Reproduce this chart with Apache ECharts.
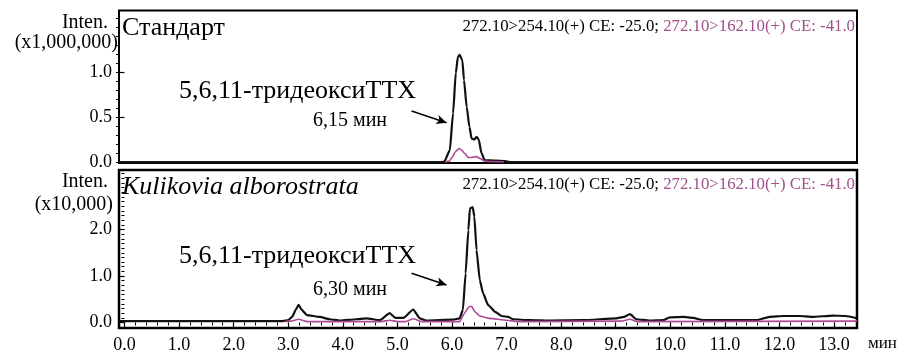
<!DOCTYPE html>
<html>
<head>
<meta charset="utf-8">
<script src="https://cdn.jsdelivr.net/npm/echarts@6/dist/echarts.min.js"></script>
<style>
  html, body { margin: 0; padding: 0; background: #fff; }
  #chart { width: 901px; height: 357px; }
</style>
</head>
<body>
<div id="chart"></div>
<script>
// x axis, minutes
const xTicks = [0, 1, 2, 3, 4, 5, 6, 7, 8, 9, 10, 11, 12, 13]
const topYTicks = [0, 0.5, 1.0]
const bottomYTicks = [0, 1.0, 2.0]

// Стандарт, x1,000,000
const stdBlackTime = [-0.10, 5.80, 5.86, 5.96, 6.02, 6.07, 6.11, 6.14, 6.19, 6.22, 6.27, 6.32, 6.36, 6.41, 6.45, 6.49, 6.54, 6.60, 6.79, 6.97, 7.06, 13.42]
const stdBlackValue = [0, 0, 0.005, 0.13, 0.54, 0.99, 1.17, 1.19, 1.13, 0.91, 0.61, 0.39, 0.26, 0.25, 0.28, 0.25, 0.10, 0.02, 0.015, 0.01, 0, 0]
const stdPinkTime = [5.88, 5.95, 6.00, 6.07, 6.13, 6.18, 6.24, 6.30, 6.36, 6.45, 6.51, 6.60, 6.69, 6.95]
const stdPinkValue = [0, 0.01, 0.05, 0.12, 0.15, 0.13, 0.09, 0.05, 0.05, 0.06, 0.04, 0.01, 0.005, 0]

// Kulikovia alborostrata, x10,000
const kulBlackTime = [-0.10, 2.90, 3.00, 3.07, 3.14, 3.19, 3.25, 3.34, 3.58, 3.76, 3.95, 4.25, 4.43, 4.68, 4.86, 4.96, 5.11, 5.29, 5.41, 5.53, 6.02, 6.14, 6.20, 6.25, 6.30, 6.33, 6.38, 6.41, 6.45, 6.51, 6.57, 6.66, 6.79, 6.91, 7.03, 7.12, 7.43, 7.79, 8.40, 9.01, 9.15, 9.26, 9.38, 9.62, 9.87, 9.99, 10.23, 10.42, 10.60, 11.15, 11.58, 11.82, 12.07, 12.37, 12.60, 12.98, 13.21, 13.42]
const kulBlackValue = [0.03, 0.03, 0.05, 0.12, 0.28, 0.38, 0.27, 0.16, 0.12, 0.07, 0.04, 0.07, 0.09, 0.05, 0.20, 0.10, 0.10, 0.28, 0.09, 0.04, 0.06, 0.09, 0.27, 1.06, 1.99, 2.46, 2.48, 2.28, 1.56, 0.91, 0.63, 0.38, 0.23, 0.14, 0.12, 0.07, 0.05, 0.04, 0.05, 0.09, 0.12, 0.18, 0.07, 0.04, 0.05, 0.11, 0.12, 0.10, 0.05, 0.05, 0.05, 0.12, 0.14, 0.14, 0.12, 0.15, 0.14, 0.09]
const kulPinkTime = [2.95, 3.05, 3.19, 3.35, 4.70, 4.86, 5.00, 5.15, 5.29, 5.45, 6.14, 6.23, 6.31, 6.36, 6.42, 6.51, 6.69, 7.00, 7.20, 9.10, 9.26, 9.40, 13.42]
const kulPinkValue = [0.02, 0.03, 0.07, 0.02, 0.02, 0.05, 0.02, 0.02, 0.08, 0.02, 0.02, 0.20, 0.34, 0.35, 0.23, 0.14, 0.09, 0.05, 0.02, 0.03, 0.07, 0.02, 0.03]

// arrows (time, intensity)
const stdArrow = [[5.26, 0.567], [5.90, 0.437]]
const kulArrow = [[5.26, 1.06], [5.90, 0.806]]

const FONT = 'Liberation Serif'
const PINK_LINE = '#ad4a93'
const PINK_TEXT = '#a0508a'
const X_MIN = -0.10
const X_MAX = 13.42

const zip = (t, v) => t.map((x, i) => [x, v[i]])
const steps = (from, to, step) => {
  const out = []
  for (let v = from; v <= to + 1e-9; v += step) out.push(+v.toFixed(2))
  return out
}

const chart = echarts.init(document.getElementById('chart'))

const labelStyle = { color: '#000', fontFamily: FONT, fontSize: 18 }

const arrowLine = (pts) => ({
  silent: true,
  symbol: ['none', 'arrow'],
  symbolSize: [7, 10],
  label: { show: false },
  lineStyle: { color: '#000', width: 1.5, type: 'solid' },
  data: [[{ coord: pts[0] }, { coord: pts[1] }]],
})

// major / minor tick axes share a grid, so position is set by hand
const yAxisPair = (gridIndex, min, max, major, minorTop) => [
  {
    gridIndex, type: 'value', min, max, position: 'left',
    axisLine: { show: false },
    splitLine: { show: false },
    axisTick: { customValues: major, length: 5, lineStyle: { color: '#000', width: 1.2 } },
    axisLabel: { customValues: major, margin: 7, formatter: (v) => v.toFixed(1), ...labelStyle },
  },
  {
    gridIndex, type: 'value', min, max, position: 'left', offset: 0,
    axisLine: { show: false },
    splitLine: { show: false },
    axisTick: { customValues: steps(0, minorTop, 0.1), length: 3, lineStyle: { color: '#000', width: 1 } },
    axisLabel: { show: false },
  },
]

chart.setOption({
  animation: false,
  grid: [
    { left: 119, top: 10.5, width: 738, height: 152.5, show: true, borderColor: '#000', borderWidth: 2 },
    { left: 119, top: 170, width: 738, height: 158, show: true, borderColor: '#000', borderWidth: 2.5 },
  ],
  xAxis: [
    { gridIndex: 0, type: 'value', min: X_MIN, max: X_MAX, show: false },
    {
      gridIndex: 1, type: 'value', min: X_MIN, max: X_MAX, position: 'bottom',
      axisLine: { show: false },
      splitLine: { show: false },
      axisTick: { customValues: xTicks, length: 5, lineStyle: { color: '#000', width: 1.2 } },
      axisLabel: { customValues: xTicks, margin: 8, formatter: (v) => v.toFixed(1), ...labelStyle },
    },
    {
      gridIndex: 1, type: 'value', min: X_MIN, max: X_MAX, position: 'bottom', offset: 0,
      axisLine: { show: false },
      splitLine: { show: false },
      axisTick: { customValues: steps(0, 13.4, 0.2), length: 3, lineStyle: { color: '#000', width: 1 } },
      axisLabel: { show: false },
    },
  ],
  yAxis: [
    ...yAxisPair(0, -0.011, 1.683, topYTicks, 1.6),
    ...yAxisPair(1, -0.118, 3.28, bottomYTicks, 3.2),
  ],
  series: [
    {
      type: 'line', xAxisIndex: 0, yAxisIndex: 0,
      data: zip(stdBlackTime, stdBlackValue),
      showSymbol: false, smooth: 0.2, smoothMonotone: 'x',
      lineStyle: { color: '#111', width: 2.2 },
      markLine: arrowLine(stdArrow),
    },
    {
      type: 'line', xAxisIndex: 0, yAxisIndex: 0,
      data: zip(stdPinkTime, stdPinkValue),
      showSymbol: false, smooth: 0.2, smoothMonotone: 'x',
      lineStyle: { color: PINK_LINE, width: 1.6 },
    },
    {
      type: 'line', xAxisIndex: 1, yAxisIndex: 2,
      data: zip(kulBlackTime, kulBlackValue),
      showSymbol: false, smooth: 0.15, smoothMonotone: 'x',
      lineStyle: { color: '#111', width: 2.2 },
      markLine: arrowLine(kulArrow),
    },
    {
      type: 'line', xAxisIndex: 1, yAxisIndex: 2,
      data: zip(kulPinkTime, kulPinkValue),
      showSymbol: false, smooth: 0.15, smoothMonotone: 'x',
      lineStyle: { color: PINK_LINE, width: 1.6 },
    },
  ],
  graphic: [
    // y axis names
    { type: 'text', x: 108, y: 22.5, style: { text: 'Inten.', align: 'right', verticalAlign: 'middle', fill: '#000', fontFamily: FONT, fontSize: 20 } },
    { type: 'text', x: 118, y: 43, style: { text: '(x1,000,000)', align: 'right', verticalAlign: 'middle', fill: '#000', fontFamily: FONT, fontSize: 20 } },
    { type: 'text', x: 108, y: 181.5, style: { text: 'Inten.', align: 'right', verticalAlign: 'middle', fill: '#000', fontFamily: FONT, fontSize: 20 } },
    { type: 'text', x: 113, y: 205, style: { text: '(x10,000)', align: 'right', verticalAlign: 'middle', fill: '#000', fontFamily: FONT, fontSize: 20 } },
    // panel titles
    { type: 'text', x: 122, y: 28.5, style: { text: 'Стандарт', verticalAlign: 'middle', fill: '#000', fontFamily: FONT, fontSize: 26 } },
    { type: 'text', x: 122, y: 187, style: { text: 'Kulikovia alborostrata', verticalAlign: 'middle', fill: '#000', fontFamily: FONT, fontSize: 26, fontStyle: 'italic' } },
    // transitions
    {
      type: 'text', x: 855, y: 26.5,
      style: {
        text: '{a|272.10>254.10(+) CE: -25.0; }{b|272.10>162.10(+) CE: -41.0}',
        align: 'right', verticalAlign: 'middle', fontFamily: FONT, fontSize: 16.8,
        rich: {
          a: { fill: '#000', fontFamily: FONT, fontSize: 16.8 },
          b: { fill: PINK_TEXT, fontFamily: FONT, fontSize: 16.8 },
        },
      },
    },
    {
      type: 'text', x: 855, y: 185,
      style: {
        text: '{a|272.10>254.10(+) CE: -25.0; }{b|272.10>162.10(+) CE: -41.0}',
        align: 'right', verticalAlign: 'middle', fontFamily: FONT, fontSize: 16.8,
        rich: {
          a: { fill: '#000', fontFamily: FONT, fontSize: 16.8 },
          b: { fill: PINK_TEXT, fontFamily: FONT, fontSize: 16.8 },
        },
      },
    },
    // compound labels
    { type: 'text', x: 179, y: 91, style: { text: '5,6,11-тридеоксиТТХ', verticalAlign: 'middle', fill: '#000', fontFamily: FONT, fontSize: 26 } },
    { type: 'text', x: 313, y: 120.5, style: { text: '6,15 мин', verticalAlign: 'middle', fill: '#000', fontFamily: FONT, fontSize: 20 } },
    { type: 'text', x: 179, y: 256.5, style: { text: '5,6,11-тридеоксиТТХ', verticalAlign: 'middle', fill: '#000', fontFamily: FONT, fontSize: 26 } },
    { type: 'text', x: 313, y: 289.5, style: { text: '6,30 мин', verticalAlign: 'middle', fill: '#000', fontFamily: FONT, fontSize: 20 } },
    // x unit
    { type: 'text', x: 868, y: 344, style: { text: 'мин', verticalAlign: 'middle', fill: '#000', fontFamily: FONT, fontSize: 17 } },
  ],
})
</script>
</body>
</html>
